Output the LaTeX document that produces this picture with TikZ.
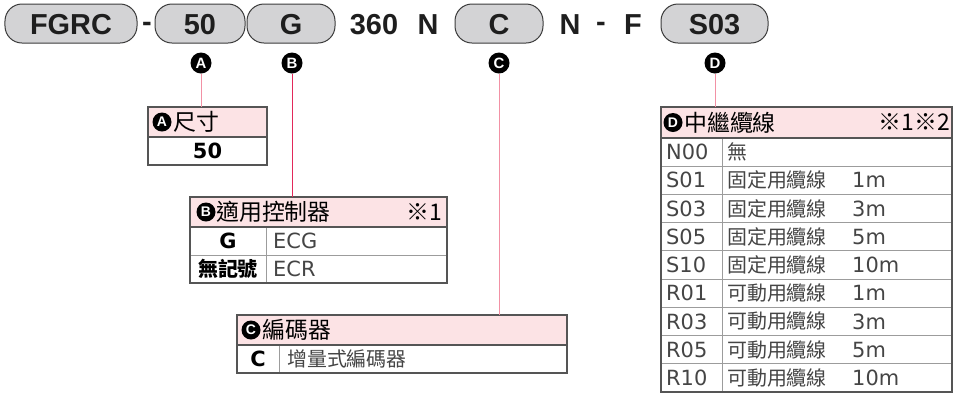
\documentclass[tikz,border=0pt]{standalone}
\usepackage{fontspec}
\setmainfont{Liberation Sans}
\newfontfamily\cjk{Noto Sans CJK TC}
\newfontfamily\dvs{DejaVu Sans}
\definecolor{pillfill}{HTML}{D3D3D5}
\definecolor{pillline}{HTML}{3C3C3C}
\definecolor{codetext}{HTML}{1E1E1E}
\definecolor{hdrfill}{HTML}{FCE3E5}
\definecolor{tborder}{HTML}{555555}
\definecolor{rowgray}{HTML}{9C9C9C}
\definecolor{bodytext}{HTML}{454545}
\definecolor{pinkline}{HTML}{F291A5}
\definecolor{redline}{HTML}{E2285A}
\begin{document}
\begin{tikzpicture}[x=1bp,y=-1bp,
  pill/.style={draw=pillline,fill=pillfill,line width=1bp,rounded corners=17bp,inner sep=0pt,minimum height=39bp,text height=21bp,text depth=0pt,font=\fontsize{29}{29}\selectfont\bfseries,text=codetext},
  codetxt/.style={inner sep=0pt,anchor=base,font=\fontsize{29}{29}\selectfont\bfseries,text=codetext},
  marker/.style={circle,fill=black,inner sep=0pt,minimum size=21bp,text=white,font=\fontsize{15}{15}\selectfont\bfseries},
  hmarker/.style={marker,minimum size=19bp,font=\fontsize{14}{14}\selectfont\bfseries},
  hdr/.style={draw=tborder,fill=hdrfill,line width=1.2bp,inner sep=0pt,outer sep=0pt,anchor=north west},
  htxt/.style={anchor=west,inner sep=0pt,font=\cjk\fontsize{23}{23}\selectfont,text=black},
  btxt/.style={anchor=west,inner sep=0pt,font=\dvs\fontsize{21}{21}\selectfont,text=bodytext},
  ctxt/.style={anchor=west,inner sep=0pt,font=\cjk\fontsize{20}{20}\selectfont,text=bodytext},
  boldtxt/.style={inner sep=0pt,font=\dvs\bfseries\fontsize{21}{21}\selectfont,text=black},
  boldcjk/.style={inner sep=0pt,font=\cjk\bfseries\fontsize{20}{20}\selectfont,text=black},
  tframe/.style={draw=tborder,line width=1.2bp},
  rowline/.style={draw=rowgray,line width=0.9bp},
  conA/.style={draw=pinkline,line width=1bp},
  conB/.style={draw=redline,line width=1bp}
]
\fill[white] (0,0) rectangle (953,394);
\useasboundingbox (0,0) rectangle (953,394);

% ---- model code row ----
\node[pill,minimum width=132bp] (pFGRC) at (71,23.5) {FGRC};
\node[codetxt] (d1) at (147,31) {-};
\node[pill,minimum width=90bp] (p50) at (200,23.5) {50};
\node[pill,minimum width=88bp] (pG) at (291,23.5) {G};
\node[codetxt] (c360) at (374,34.5) {360};
\node[codetxt] (cN1) at (428,34.5) {N};
\node[pill,minimum width=88bp] (pC) at (499,23.5) {C};
\node[codetxt] (cN2) at (570,34.5) {N};
\node[codetxt] (d2) at (601,31) {-};
\node[codetxt] (cF) at (633,34.5) {F};
\node[pill,minimum width=107bp] (pS) at (714.5,23.5) {S03};

% ---- markers ----
\node[marker] (mA) at (201,63) {A};
\node[marker] (mB) at (292,63) {B};
\node[marker] (mC) at (499,63) {C};
\node[marker] (mD) at (715,63) {D};

% ---- table A ----
\node[hdr,minimum width=119bp,minimum height=30bp] (tA) at (148,107) {};
\node[hmarker] (hA) at (162,122) {A};
\node[htxt] (hAt) at (173,122) {尺寸};
\node[boldtxt] (vA) at (207.5,151) {50};
\draw[tframe] (tA.north west) rectangle (267,165);
\draw[tframe] (tA.south west) -- (tA.south east);

% ---- table B ----
\node[hdr,minimum width=257bp,minimum height=30bp] (tB) at (190,197) {};
\node[hmarker] (hB) at (206,212) {B};
\node[htxt] (hBt) at (216,212) {適用控制器};
\node[htxt,anchor=east] (hBn) at (442,212) {※1};
\draw[rowline] (190,255) -- (447,255);
\draw[rowline] (266,227) -- (266,283);
\node[boldtxt] (vB1) at (228,241) {G};
\node[btxt] (dB1) at (273,241) {ECG};
\node[boldcjk] (vB2) at (228,269) {無記號};
\node[btxt] (dB2) at (273,269) {ECR};
\draw[tframe] (tB.north west) rectangle (447,283);
\draw[tframe] (tB.south west) -- (tB.south east);

% ---- table C ----
\node[hdr,minimum width=330bp,minimum height=30bp] (tC) at (237,315) {};
\node[hmarker] (hC) at (251,330) {C};
\node[htxt] (hCt) at (262,330) {編碼器};
\draw[rowline] (279,345) -- (279,373);
\node[boldtxt] (vC1) at (258,359) {C};
\node[ctxt] (dC1) at (287,359) {增量式編碼器};
\draw[tframe] (tC.north west) rectangle (567,373);
\draw[tframe] (tC.south west) -- (tC.south east);

% ---- table D ----
\node[hdr,minimum width=291bp,minimum height=31bp] (tD) at (661,107) {};
\node[hmarker] (hD) at (673,122.5) {D};
\node[htxt] (hDt) at (684,122.5) {中繼纜線};
\node[htxt,anchor=east] (hDn) at (950,122.5) {※1※2};
\foreach \k in {1,...,8} \draw[rowline] (661,{138+28.22*\k}) -- (952,{138+28.22*\k});
\draw[rowline] (722,138) -- (722,392);
\node[btxt] (cD0) at (666,152.1) {N00};
\node[ctxt] (dD0) at (727,152.1) {無};
\foreach \c/\d/\l [count=\i] in {S01/固定用纜線/1m,S03/固定用纜線/3m,S05/固定用纜線/5m,S10/固定用纜線/10m,R01/可動用纜線/1m,R03/可動用纜線/3m,R05/可動用纜線/5m,R10/可動用纜線/10m}{
  \node[btxt] (cD\i) at (666,{138+28.22*(\i+0.5)}) {\c};
  \node[ctxt] (dD\i) at (727,{138+28.22*(\i+0.5)}) {\d};
  \node[btxt] (lD\i) at (852,{138+28.22*(\i+0.5)}) {\l};
}
\draw[tframe] (tD.north west) rectangle (952,392);
\draw[tframe] (tD.south west) -- (tD.south east);

% ---- connectors ----
\draw[conA] (mA) -- (mA |- tA.north);
\draw[conB] (mB) -- (mB |- tB.north);
\draw[conA] (mC) -- (mC |- tC.north);
\draw[conA] (mD) -- (mD |- tD.north);
\end{tikzpicture}
\end{document}
